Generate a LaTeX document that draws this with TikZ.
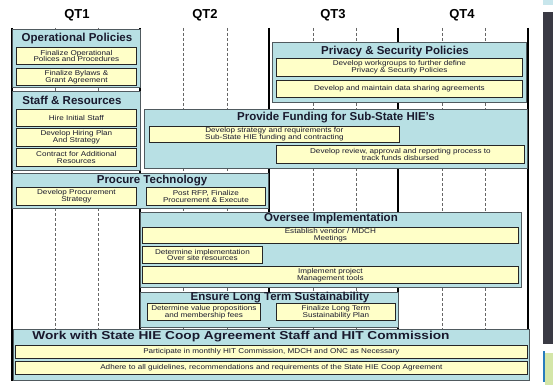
\documentclass[tikz,border=0pt]{standalone}
\usepackage{fontspec}
\setmainfont{Liberation Sans}
\newfontfamily\smallf[FakeStretch=1.16]{Liberation Sans}
\newfontfamily\widef[FakeStretch=1.19]{Liberation Sans}
\definecolor{boxblue}{RGB}{184,224,228}
\definecolor{boxedge}{RGB}{80,90,95}
\definecolor{boxyellow}{RGB}{255,255,200}
\definecolor{titlecol}{RGB}{25,25,45}
\definecolor{darkpanel}{RGB}{58,58,68}
\definecolor{lightcyan}{RGB}{200,230,236}
\definecolor{lightgreen}{RGB}{212,230,168}
\definecolor{stripblue}{RGB}{40,125,190}
\tikzset{
  bluebox/.style={draw=boxedge, fill=boxblue, line width=1.1pt, inner sep=0pt, anchor=north west},
  ybox/.style={draw=black!85, fill=boxyellow, line width=0.8pt, inner sep=0pt, anchor=north west,
    align=center, font=\smallf\fontsize{7}{6.6}\selectfont, text=titlecol},
  ttl/.style={font=\bfseries\fontsize{11.5}{11.5}\selectfont, text=titlecol},
  widettl/.style={font=\widef\bfseries\fontsize{11.5}{11.5}\selectfont, text=titlecol},
  hdr/.style={font=\bfseries\fontsize{13}{13}\selectfont},
  gridsolid/.style={line width=2pt, black},
  griddash/.style={densely dashed, black!60, line width=0.6pt},
}
\newcommand\bb[5]{\node[bluebox, minimum width={(#4-#2)*1pt}, minimum height={(#5-#3)*1pt}] (#1) at (#2,#3) {};}
\newcommand\yb[6]{\node[ybox, minimum width={(#4-#2)*1pt}, minimum height={(#5-#3)*1pt}] (#1) at (#2,#3) {#6};}
\begin{document}
\begin{tikzpicture}[x=1pt,y=-1pt]
\useasboundingbox (0,0) rectangle (553,385);
\fill[white] (0,0) rectangle (553,385);
% headers
\node[hdr] (q1) at (77,15) {QT1};
\node[hdr] (q2) at (205,15) {QT2};
\node[hdr] (q3) at (333,15) {QT3};
\node[hdr] (q4) at (462,15) {QT4};
% grid
\foreach \x in {55,98,183,227,313,356,442,485} \draw[griddash] (\x,28) -- (\x,380);
\foreach \x in {12,140,269,398,528} \draw[gridsolid] (\x,28) -- (\x,381);
% Operational Policies
\bb{op}{12}{29}{140}{87}
\node[ttl] (opt) at (77,39) {Operational Policies};
\yb{op1}{16}{47}{136}{64}{Finalize Operational\\Polices and Procedures}
\yb{op2}{16}{68}{136}{85}{Finalize Bylaws \&\\Grant Agreement}
% Staff & Resources
\bb{sr}{12}{91}{140}{170}
\node[ttl] (srt) at (72,100) {Staff \& Resources};
\yb{sr1}{16}{109}{136}{126}{Hire Initial Staff}
\yb{sr2}{16}{128}{136}{146}{Develop Hiring Plan\\And Strategy}
\yb{sr3}{16}{148}{136}{166}{Contract for Additional\\Resources}
% Privacy & Security
\bb{ps}{272}{42}{526}{102}
\node[ttl] (pst) at (395,52) {Privacy \& Security Policies};
\yb{ps1}{276}{58}{522}{76}{Develop workgroups to further define\\Privacy \& Security Policies}
\yb{ps2}{276}{80}{522}{97}{Develop and maintain data sharing agreements}
% Provide Funding
\bb{pf}{144}{109}{527}{168}
\node[ttl] (pft) at (336,118) {Provide Funding for Sub-State HIE's};
\yb{pf1}{149}{126}{399}{142}{Develop strategy and requirements for\\Sub-State HIE funding and contracting}
\yb{pf2}{276}{145}{524}{163}{Develop review, approval and reporting process to\\track funds disbursed}
% Procure Technology
\bb{pt}{12}{173}{268}{208}
\node[ttl] (ptt) at (152,181) {Procure Technology};
\yb{pt1}{16}{187}{136}{205}{Develop Procurement\\Strategy}
\yb{pt2}{146}{187}{265}{205}{Post RFP, Finalize\\Procurement \& Execute}
% Oversee Implementation
\bb{oi}{140}{212}{521}{287}
\node[ttl] (oit) at (331,219) {Oversee Implementation};
\yb{oi1}{142}{227}{518}{243}{Establish vendor / MDCH\\Meetings}
\yb{oi2}{142}{246}{262}{263}{Determine implementation\\Over site resources}
\yb{oi3}{142}{266}{518}{283}{Implement project\\Management tools}
% Ensure Long Term Sustainability
\bb{es}{140}{292}{398}{327}
\node[ttl] (est) at (280,298) {Ensure Long Term Sustainability};
\yb{es1}{147}{303}{260}{320}{Determine value propositions\\and membership fees}
\yb{es2}{276}{303}{395}{320}{Finalize Long Term\\Sustainability Plan}
% Work with State
\bb{ws}{13}{329}{529}{380}
\node[widettl] (wst) at (241,337) {Work with State HIE Coop Agreement Staff and HIT Commission};
\yb{ws1}{15}{345}{527}{358}{Participate in monthly HIT Commission, MDCH and ONC as Necessary}
\yb{ws2}{15}{361}{527}{374}{Adhere to all guidelines, recommendations and requirements of the State HIE Coop Agreement}
% right edge screen fragments
\fill[lightcyan] (543,0) rectangle (553,5);
\fill[darkpanel] (543,12) rectangle (553,344);
\fill[stripblue] (543,351) rectangle (545,382);
\fill[lightgreen] (545,353) rectangle (553,385);
\end{tikzpicture}
\end{document}
